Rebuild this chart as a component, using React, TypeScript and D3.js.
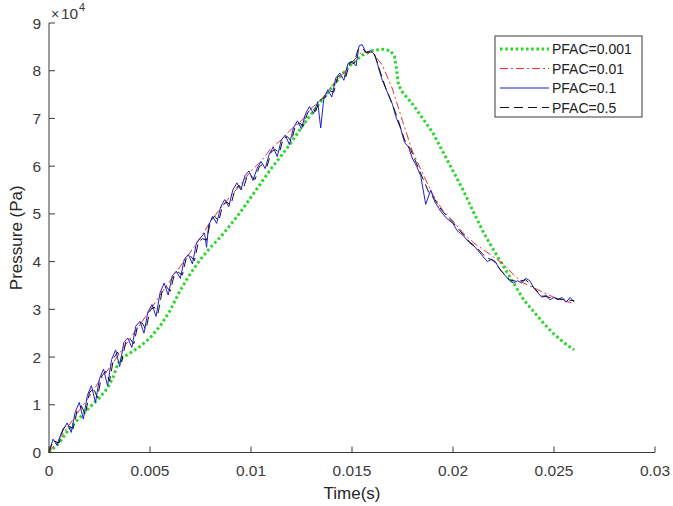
import React from "react";
import * as d3 from "d3";

// Data (pressure values in units of 1e4 Pa, time in seconds)
const tGreen = [0,0.0005,0.001,0.0015,0.002,0.0025,0.0029,0.0032,0.0034,0.0036,0.004,0.0045,0.005,0.0055,0.006,0.0065,0.007,0.0075,0.008,0.0085,0.009,0.0095,0.01,0.0105,0.011,0.0115,0.012,0.0125,0.013,0.0135,0.014,0.0145,0.015,0.0155,0.016,0.0165,0.0169,0.0171,0.0172,0.0173,0.0175,0.018,0.0185,0.019,0.0195,0.02,0.0205,0.021,0.0215,0.022,0.0225,0.023,0.0235,0.024,0.0245,0.025,0.0255,0.026];
const pGreen = [0,0.2,0.5,0.72,0.94,1.15,1.35,1.6,1.85,1.98,2.08,2.22,2.4,2.65,2.98,3.4,3.75,4.05,4.3,4.52,4.78,5.05,5.35,5.65,5.95,6.22,6.5,6.82,7.1,7.38,7.65,7.92,8.15,8.32,8.42,8.45,8.42,8.3,8.05,7.7,7.55,7.3,7.0,6.7,6.3,5.9,5.5,5.05,4.62,4.25,3.9,3.55,3.2,2.95,2.7,2.48,2.3,2.15];

const tRed = [0,0.0005,0.001,0.0015,0.002,0.0025,0.003,0.0035,0.004,0.0045,0.005,0.0055,0.006,0.0065,0.007,0.0075,0.008,0.0085,0.009,0.0095,0.01,0.0105,0.011,0.0115,0.012,0.0125,0.013,0.0135,0.014,0.0145,0.015,0.0155,0.016,0.0165,0.017,0.0175,0.018,0.0185,0.019,0.0195,0.02,0.0205,0.021,0.0215,0.022,0.0225,0.023,0.0235,0.024,0.0245,0.025,0.0255,0.026];
const pRed = [0,0.28,0.58,0.88,1.18,1.5,1.78,2.08,2.38,2.68,2.98,3.3,3.6,3.9,4.2,4.5,4.85,5.12,5.38,5.62,5.9,6.1,6.38,6.55,6.78,6.95,7.22,7.4,7.68,7.9,8.18,8.4,8.38,8.12,7.62,6.95,6.3,5.85,5.4,5.07,4.85,4.6,4.4,4.25,4.1,3.95,3.72,3.55,3.45,3.35,3.25,3.18,3.12];

const tBlue = [0,0.0002,0.0004,0.0006,0.0009,0.0011,0.0013,0.0015,0.0017,0.0019,0.0021,0.0023,0.0025,0.0027,0.0029,0.0031,0.0033,0.0035,0.0037,0.0039,0.0041,0.0043,0.0045,0.0047,0.0049,0.0051,0.0053,0.0055,0.0057,0.0059,0.0061,0.0063,0.0065,0.0067,0.0069,0.0071,0.0073,0.0075,0.0077,0.0078,0.0079,0.0081,0.0083,0.0085,0.0087,0.0089,0.0091,0.0093,0.0095,0.0097,0.0099,0.0101,0.0103,0.0105,0.0107,0.0109,0.0111,0.0113,0.0115,0.0117,0.0119,0.0121,0.0123,0.0125,0.0127,0.0129,0.0131,0.0133,0.01345,0.0136,0.0138,0.014,0.0142,0.0144,0.0146,0.0148,0.015,0.0152,0.01535,0.0155,0.0157,0.0159,0.0161,0.0162,0.01635,0.0165,0.0167,0.01685,0.017,0.0172,0.0174,0.0176,0.0178,0.018,0.0182,0.0184,0.01865,0.0189,0.0191,0.0194,0.0197,0.02,0.0202,0.0205,0.0208,0.0211,0.0214,0.0217,0.0219,0.0221,0.0223,0.0226,0.0228,0.023,0.0232,0.0234,0.0236,0.0238,0.024,0.0242,0.0244,0.0246,0.0248,0.025,0.0252,0.0254,0.0256,0.0258,0.026];
const pBlue = [0,0.28,0.15,0.4,0.62,0.42,0.85,1.05,0.7,1.2,1.4,1.05,1.55,1.75,1.4,1.95,2.15,1.8,2.3,2.4,2.2,2.65,2.75,2.5,2.95,3.1,2.85,3.35,3.55,3.3,3.7,3.8,3.65,4.05,4.15,3.95,4.4,4.5,4.6,4.3,4.75,4.95,4.8,5.15,5.3,5.15,5.5,5.65,5.5,5.8,5.9,5.7,5.95,6.1,5.95,6.25,6.4,6.2,6.55,6.65,6.45,6.8,6.95,6.78,7.1,7.25,7.1,7.35,6.8,7.4,7.6,7.45,7.85,7.95,7.8,8.15,8.2,8.1,8.52,8.55,8.38,8.42,8.35,8.25,8.0,7.8,7.6,7.45,7.3,7.0,6.8,6.5,6.4,6.15,6.0,5.8,5.2,5.5,5.25,5.05,4.9,4.8,4.65,4.55,4.4,4.3,4.15,4.0,4.05,4.0,3.85,3.7,3.6,3.55,3.6,3.55,3.65,3.6,3.45,3.35,3.25,3.3,3.2,3.25,3.2,3.25,3.15,3.25,3.15];

const tBlack = [0,0.0002,0.0005,0.0007,0.0009,0.0012,0.0014,0.0016,0.0018,0.002,0.0022,0.0024,0.0026,0.0028,0.003,0.0032,0.0034,0.0036,0.0038,0.004,0.0042,0.0044,0.0046,0.0048,0.005,0.0052,0.0054,0.0056,0.0058,0.006,0.0062,0.0064,0.0066,0.0068,0.007,0.0072,0.0074,0.0076,0.0078,0.008,0.0082,0.0084,0.0086,0.0088,0.009,0.0092,0.0094,0.0096,0.0098,0.01,0.0102,0.0104,0.0106,0.0108,0.011,0.0112,0.0114,0.0116,0.0118,0.012,0.0122,0.0124,0.0126,0.0128,0.013,0.0132,0.0134,0.0137,0.0139,0.0141,0.0143,0.0145,0.0147,0.0149,0.0151,0.0153,0.0155,0.0157,0.0159,0.0161,0.0163,0.0165,0.0167,0.017,0.0173,0.0176,0.0179,0.0182,0.0185,0.0188,0.0191,0.0194,0.0197,0.02,0.0204,0.0208,0.0212,0.0216,0.022,0.0224,0.0228,0.0232,0.0236,0.024,0.0244,0.0248,0.0252,0.0256,0.026];
const pBlack = [0,0.25,0.2,0.5,0.58,0.5,0.9,0.98,0.8,1.25,1.35,1.15,1.6,1.7,1.5,1.98,2.1,1.9,2.32,2.38,2.28,2.68,2.72,2.58,2.98,3.05,2.92,3.38,3.48,3.38,3.72,3.78,3.72,4.08,4.12,4.02,4.42,4.48,4.45,4.85,4.95,4.85,5.18,5.25,5.18,5.5,5.6,5.5,5.78,5.8,5.72,5.98,6.05,6.0,6.3,6.35,6.28,6.58,6.62,6.52,6.85,6.9,6.85,7.12,7.2,7.15,7.38,7.45,7.58,7.55,7.88,7.92,7.88,8.18,8.15,8.45,8.48,8.38,8.4,8.36,8.1,7.85,7.6,7.3,6.95,6.55,6.35,6.05,5.75,5.45,5.3,5.1,4.95,4.82,4.62,4.42,4.28,4.1,4.02,3.8,3.62,3.58,3.62,3.45,3.28,3.25,3.22,3.2,3.18];

const xTicks = [0, 0.005, 0.01, 0.015, 0.02, 0.025, 0.03];
const xTickLabels = ["0", "0.005", "0.01", "0.015", "0.02", "0.025", "0.03"];
const yTicks = [0, 1, 2, 3, 4, 5, 6, 7, 8, 9];
const yTickLabels = ["0", "1", "2", "3", "4", "5", "6", "7", "8", "9"];
const seriesNames = ["PFAC=0.001", "PFAC=0.01", "PFAC=0.1", "PFAC=0.5"];

const W = 673, H = 506;
const FONT = "'Liberation Sans', Arial, Helvetica, sans-serif";
const AX = "#3a3a3a";

export default function App() {
  const x = d3.scaleLinear().domain([0, 0.03]).range([49, 655]);
  const y = d3.scaleLinear().domain([0, 9]).range([452.5, 23]);
  const line = d3.line<[number, number]>().x(d => x(d[0])).y(d => y(d[1]));
  const zip = (t: number[], p: number[]) => t.map((v, i) => [v, p[i]] as [number, number]);

  const series = [
    { name: seriesNames[0], d: zip(tGreen, pGreen), color: "#2bd62b", w: 3, dash: "2.6 2.6" },
    { name: seriesNames[1], d: zip(tRed, pRed), color: "#e8302a", w: 1, dash: "8 3 2 3" },
    { name: seriesNames[2], d: zip(tBlue, pBlue), color: "#1f1fd6", w: 1, dash: "none" },
    { name: seriesNames[3], d: zip(tBlack, pBlack), color: "#111111", w: 1, dash: "9 5" },
  ];

  const legX = 495, legY = 36, legW = 147, legH = 81;
  const rowY = (i: number) => legY + 13 + i * 19.5;

  return (
    <svg width={W} height={H} style={{ position: "absolute", left: 0, top: 0, background: "#fff" }} fontFamily={FONT}>
      <rect x={0} y={0} width={W} height={H} fill="#fff" />
      {series.map(s => (
        <path key={s.name} d={line(s.d) || ""} fill="none" stroke={s.color} strokeWidth={s.w}
          strokeDasharray={s.dash} strokeLinejoin="round" />
      ))}
      <line x1={x(0)} x2={x(0.03)} y1={y(0)} y2={y(0)} stroke={AX} strokeWidth={1} />
      <line x1={x(0)} x2={x(0)} y1={y(0)} y2={y(9)} stroke={AX} strokeWidth={1} />
      {xTicks.map((t, i) => (
        <g key={"xt" + i}>
          <line x1={x(t)} x2={x(t)} y1={y(0)} y2={y(0) - 6} stroke={AX} />
          <text x={x(t)} y={y(0) + 23} textAnchor="middle" fontSize={15.5} fill={AX}>{xTickLabels[i]}</text>
        </g>
      ))}
      {yTicks.map((v, i) => (
        <g key={"yt" + i}>
          <line x1={x(0)} x2={x(0) + 6} y1={y(v)} y2={y(v)} stroke={AX} />
          <text x={41} y={y(v) + 5.5} textAnchor="end" fontSize={15.5} fill={AX}>{yTickLabels[i]}</text>
        </g>
      ))}
      <text x={51} y={19} fontSize={14} fill={AX}>×</text>
      <text x={61} y={19} fontSize={15.5} fill={AX}>10</text>
      <text x={79} y={11} fontSize={11} fill={AX}>4</text>
      <text x={352} y={499} textAnchor="middle" fontSize={17} fill="#262626">Time(s)</text>
      <text transform={`translate(22,${(y(0) + y(9)) / 2}) rotate(-90)`} textAnchor="middle" fontSize={17} fill="#262626">Pressure (Pa)</text>
      <rect x={legX} y={legY} width={legW} height={legH} fill="#fff" stroke={AX} strokeWidth={1} />
      {series.map((s, i) => (
        <g key={"lg" + i}>
          <line x1={legX + 5} x2={legX + 54} y1={rowY(i)} y2={rowY(i)} stroke={s.color} strokeWidth={s.w}
            strokeDasharray={s.dash} />
          <text x={legX + 57} y={rowY(i) + 5} fontSize={14} fill="#222">{s.name}</text>
        </g>
      ))}
    </svg>
  );
}
